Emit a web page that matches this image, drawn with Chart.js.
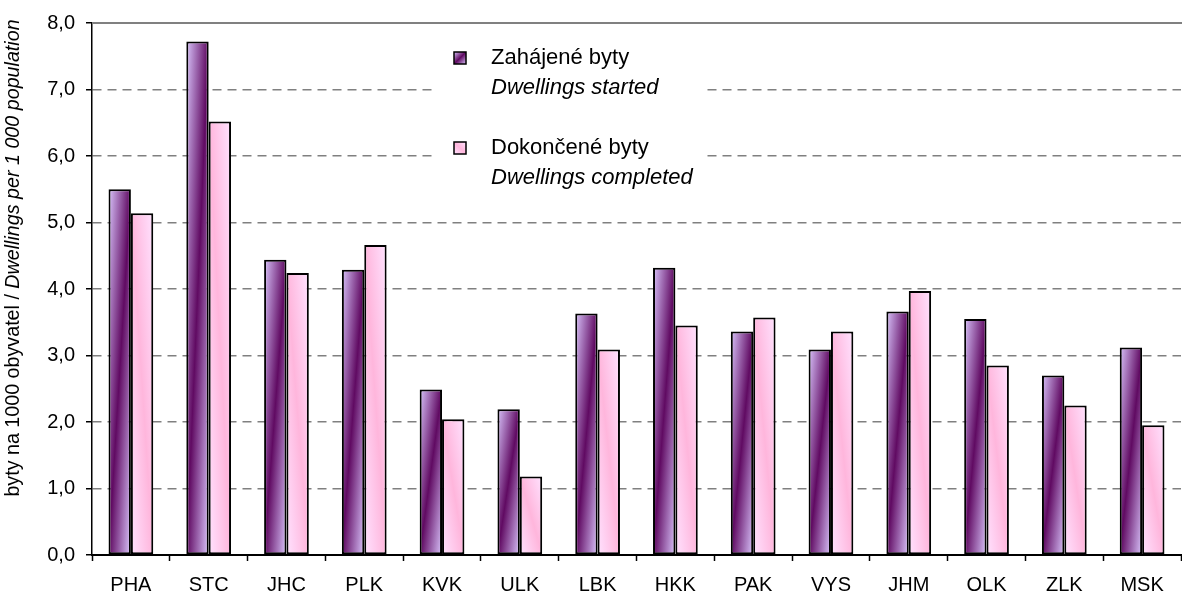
<!DOCTYPE html>
<html>
<head>
<meta charset="utf-8">
<script src="https://cdn.jsdelivr.net/npm/chart.js@4.4.1/dist/chart.umd.min.js"></script>
<style>
  html, body { margin: 0; padding: 0; background: #fff; }
  #wrap { width: 1182px; height: 594px; }
</style>
</head>
<body>
<div id="wrap"><canvas id="myChart" width="1182" height="594"></canvas></div>
<script>
const regions = ['PHA', 'STC', 'JHC', 'PLK', 'KVK', 'ULK', 'LBK', 'HKK', 'PAK', 'VYS', 'JHM', 'OLK', 'ZLK', 'MSK'];
const dwellingsStarted = [5.50, 7.72, 4.44, 4.29, 2.49, 2.19, 3.63, 4.32, 3.36, 3.09, 3.66, 3.55, 2.70, 3.12];
const dwellingsCompleted = [5.14, 6.52, 4.24, 4.66, 2.04, 1.18, 3.09, 3.45, 3.57, 3.36, 3.97, 2.85, 2.25, 1.95];
const legendLines = [
    ['Zahájené byty', 'Dwellings started'],
    ['Dokončené byty', 'Dwellings completed']
];
const yTitleCz = 'byty na 1000 obyvatel / ';
const yTitleEn = 'Dwellings per 1 000 population';

const FONT = '"Liberation Sans", Arial, sans-serif';

// diagonal gradient like the old Excel fill
function barGradient(ctx, x0, y0, w, h, kind) {
    const k = 2 * w * h / (h * h + w * w);
    let g;
    if (kind === 0) {
        // dark stripe runs from top-right to bottom-left
        g = ctx.createLinearGradient(x0, y0, x0 + h * k, y0 + w * k);
        g.addColorStop(0, '#d9c4fb');
        g.addColorStop(0.5, '#600a62');
        g.addColorStop(1, '#d9c4fb');
    } else {
        // pink stripe runs from top-left to bottom-right
        g = ctx.createLinearGradient(x0, y0 + h, x0 + h * k, y0 + h - w * k);
        g.addColorStop(0, '#ffe2ff');
        g.addColorStop(0.5, '#ffb6dc');
        g.addColorStop(1, '#ffe2ff');
    }
    return g;
}

const fillPlugin = {
    id: 'fillPlugin',
    beforeDatasetsDraw(chart) {
        const ctx = chart.ctx;
        chart.getSortedVisibleDatasetMetas().forEach(meta => {
            meta.data.forEach(bar => {
                const p = bar.getProps(['x', 'y', 'base', 'width'], true);
                const left = p.x - p.width / 2;
                const top = Math.min(p.y, p.base);
                const h = Math.abs(p.base - p.y);
                bar.options.backgroundColor = barGradient(ctx, left, top, p.width, h, meta.index);
            });
        });
    }
};

const extrasPlugin = {
    id: 'extras',
    afterDraw(chart) {
        const ctx = chart.ctx;
        const area = chart.chartArea;
        ctx.save();
        // solid top line
        ctx.strokeStyle = '#808080';
        ctx.lineWidth = 2;
        ctx.beginPath();
        ctx.moveTo(area.left, area.top);
        ctx.lineTo(chart.width, area.top);
        ctx.stroke();

        // legend box
        ctx.fillStyle = '#fff';
        ctx.fillRect(437, 36, 270, 164);
        const rows = [58, 148];
        rows.forEach((cy, i) => {
            ctx.fillStyle = barGradient(ctx, 454, cy - 6, 12, 12, i);
            ctx.fillRect(454, cy - 6, 12, 12);
            ctx.strokeStyle = '#000';
            ctx.lineWidth = 1.5;
            ctx.strokeRect(454, cy - 6, 12, 12);
            ctx.fillStyle = '#000';
            ctx.textBaseline = 'middle';
            ctx.textAlign = 'left';
            ctx.font = '22px ' + FONT;
            ctx.fillText(legendLines[i][0], 491, cy);
            ctx.font = 'italic 22px ' + FONT;
            ctx.fillText(legendLines[i][1], 491, cy + 30);
        });

        // y axis title, mixed regular + italic
        ctx.translate(14, 258);
        ctx.rotate(-Math.PI / 2);
        ctx.font = '19.7px ' + FONT;
        const w1 = ctx.measureText(yTitleCz).width;
        ctx.font = 'italic 19.7px ' + FONT;
        const w2 = ctx.measureText(yTitleEn).width;
        let x = -(w1 + w2) / 2;
        ctx.fillStyle = '#000';
        ctx.textBaseline = 'middle';
        ctx.font = '19.7px ' + FONT;
        ctx.fillText(yTitleCz, x, 0);
        ctx.font = 'italic 19.7px ' + FONT;
        ctx.fillText(yTitleEn, x + w1, 0);
        ctx.restore();
    }
};

const chart = new Chart(document.getElementById('myChart').getContext('2d'), {
    type: 'bar',
    data: {
        labels: regions,
        datasets: [{
            label: 'Zahájené byty',
            data: dwellingsStarted,
            // scriptable so every bar gets its own options object
            backgroundColor: c => '#8a4a9a',
            borderColor: '#000',
            borderWidth: 2,
            borderSkipped: false
        }, {
            label: 'Dokončené byty',
            data: dwellingsCompleted,
            backgroundColor: c => '#ffd0ee',
            borderColor: '#000',
            borderWidth: 2,
            borderSkipped: false
        }]
    },
    options: {
        responsive: false,
        animation: false,
        layout: { padding: { top: 23, right: 1, left: 0, bottom: 0 } },
        plugins: {
            legend: { display: false },
            tooltip: { enabled: false }
        },
        datasets: {
            bar: { barPercentage: 1, categoryPercentage: 0.575 }
        },
        scales: {
            x: {
                grid: {
                    drawOnChartArea: false,
                    offset: true,
                    tickLength: 6,
                    tickColor: '#000',
                    tickWidth: 1.5
                },
                border: { color: '#000', width: 2 },
                ticks: {
                    color: '#000',
                    padding: 12,
                    font: { family: FONT, size: 20 }
                },
                afterFit(scale) { scale.height = 39; }
            },
            y: {
                min: 0,
                max: 8,
                grid: {
                    color: '#808080',
                    lineWidth: 1.5,
                    tickLength: 6,
                    tickColor: '#000',
                    tickWidth: 1.5
                },
                border: { color: '#000', width: 1.5, dash: [9, 6] },
                ticks: {
                    stepSize: 1,
                    color: '#000',
                    padding: 11,
                    font: { family: FONT, size: 20 },
                    callback: v => v.toFixed(1).replace('.', ',')
                },
                afterFit(scale) { scale.width = 92; }
            }
        }
    },
    plugins: [fillPlugin, extrasPlugin]
});
</script>
</body>
</html>
